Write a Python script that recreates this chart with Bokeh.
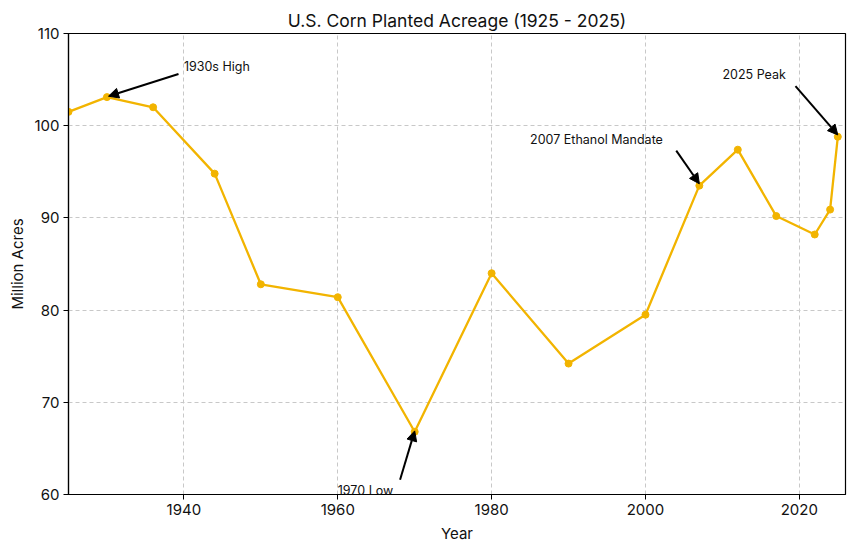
from bokeh.plotting import figure
from bokeh.models import Range1d, FixedTicker, Label, Arrow, NormalHead
from bokeh.embed import file_html
from bokeh.resources import INLINE

years = [1925, 1930, 1936, 1944, 1950, 1960, 1970, 1980, 1990, 2000, 2007, 2012, 2017, 2022, 2024, 2025]
acres = [101.5, 103.1, 102.0, 94.8, 82.8, 81.4, 66.8, 84.0, 74.2, 79.5, 93.5, 97.4, 90.2, 88.2, 90.9, 98.8]

x_ticks = [1940, 1960, 1980, 2000, 2020]
y_ticks = [60, 70, 80, 90, 100, 110]

ann_texts = ["1930s High", "1970 Low", "2007 Ethanol Mandate", "2025 Peak"]
ann_text_xy = [(1940, 106.45), (1960, 59.6), (1985, 98.45), (2010, 105.6)]
ann_tail_xy = [(1939.3, 105.6), (1968.1, 61.6), (2004.0, 97.3), (2019.5, 104.3)]
ann_head_xy = [(1930.2, 103.2), (1970.0, 66.9), (2007.0, 93.7), (2025.0, 99.0)]

FONT = "Inter"
LINE_COLOR = "#F2B400"

p = figure(width=854, height=552, output_backend="svg", toolbar_location=None,
           x_range=Range1d(1925, 2026), y_range=Range1d(60, 110),
           min_border_left=68, min_border_right=9, min_border_top=33, min_border_bottom=58,
           title="U.S. Corn Planted Acreage (1925 - 2025)")

p.title.align = "center"
p.title.text_font = FONT
p.title.text_font_size = "17.5px"
p.title.text_font_style = "normal"
p.title.text_color = "#111111"
p.title.standoff = 5

p.line(years, acres, line_color=LINE_COLOR, line_width=2.3)
p.scatter(years, acres, size=7, fill_color=LINE_COLOR, line_color=LINE_COLOR)

p.xaxis.ticker = FixedTicker(ticks=x_ticks)
p.yaxis.ticker = FixedTicker(ticks=y_ticks)
p.xaxis.axis_label = "Year"
p.yaxis.axis_label = "Million Acres"

for ax in (p.xaxis, p.yaxis):
    ax.major_label_text_font = FONT
    ax.major_label_text_font_size = "15px"
    ax.major_label_text_color = "#111111"
    ax.axis_label_text_font = FONT
    ax.axis_label_text_font_size = "15px"
    ax.axis_label_text_font_style = "normal"
    ax.axis_label_text_color = "#111111"
    ax.axis_line_color = "black"
    ax.axis_line_width = 1.2
    ax.major_tick_line_color = "black"
    ax.major_tick_out = 5
    ax.major_tick_in = 0
    ax.minor_tick_line_color = None
    ax.major_label_standoff = 4
    ax.axis_label_standoff = 6
p.yaxis.axis_label_standoff = 4

p.outline_line_color = "black"
p.outline_line_width = 1.2

for g in (p.xgrid, p.ygrid):
    g.grid_line_color = "#c8c8c8"
    g.grid_line_dash = "4 3"
    g.grid_line_width = 1

for txt, (tx, ty), (ax0, ay0), (hx, hy) in zip(ann_texts, ann_text_xy, ann_tail_xy, ann_head_xy):
    p.add_layout(Label(x=tx, y=ty, text=txt, text_font=FONT, text_font_size="12.5px",
                       text_color="#111111", text_baseline="middle" if txt != "1970 Low" else "bottom"))
    p.add_layout(Arrow(end=NormalHead(size=10, fill_color="black", line_color="black"),
                       x_start=ax0, y_start=ay0, x_end=hx, y_end=hy,
                       line_color="black", line_width=2))

open("out.html", "w").write(file_html(p, INLINE))
